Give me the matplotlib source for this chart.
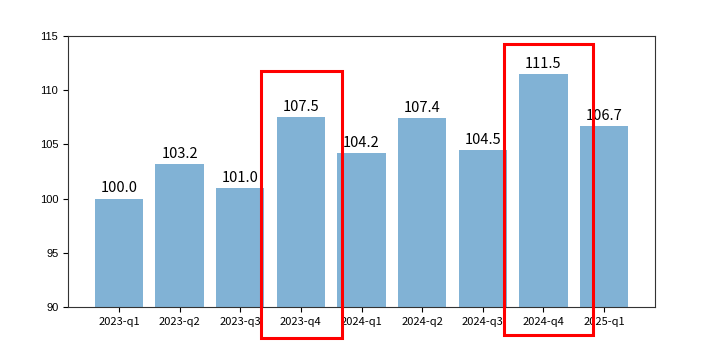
import matplotlib
matplotlib.use('Agg')
import matplotlib.pyplot as plt
from matplotlib.patches import Rectangle

quarters = ['2023-q1', '2023-q2', '2023-q3', '2023-q4', '2024-q1',
            '2024-q2', '2024-q3', '2024-q4', '2025-q1']
values = [100.0, 103.2, 101.0, 107.5, 104.2, 107.4, 104.5, 111.5, 106.7]
highlight = ['2023-q4', '2024-q4']

cjk = ['Noto Sans CJK SC', 'DejaVu Sans']

fig = plt.figure(figsize=(7.07, 3.52), dpi=100)
ax = fig.add_axes([68/707, 1 - 307/352, (655-68)/707, (307-36)/352])

x = list(range(len(quarters)))
bars = ax.bar(x, values, width=0.8, color='tab:blue', alpha=0.56)
for xi, v in zip(x, values):
    ax.text(xi, v + 0.3, f'{v:.1f}', ha='center', va='bottom',
            fontsize=10.5, family=cjk)

ax.set_ylim(90, 115)
ax.set_xticks(x)
ax.set_xticklabels(quarters, family=cjk, fontsize=8)
ax.tick_params(axis='y', labelsize=8)
for lab in ax.get_yticklabels():
    lab.set_family(['Liberation Sans', 'DejaVu Sans'])
for s in ax.spines.values():
    s.set_edgecolor('#333333')

# red boxes around the q4 bars, drawn past the axes
boxes = {'2023-q4': (2.34, 3.68, 87.1, 111.8),
         '2024-q4': (6.35, 7.81, 87.4, 114.3)}
for q in highlight:
    x0, x1, y0, y1 = boxes[q]
    r = Rectangle((x0, y0), x1 - x0, y1 - y0, fill=False, edgecolor='red',
                  linewidth=2.2, clip_on=False, zorder=5)
    ax.add_patch(r)

fig.savefig('out.png', dpi=100)
